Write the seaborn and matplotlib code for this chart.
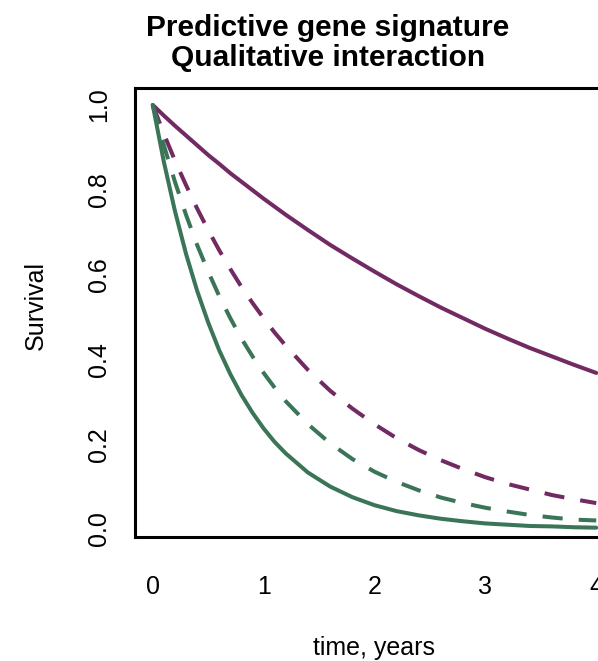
import matplotlib
matplotlib.use("Agg")
import matplotlib.pyplot as plt
import numpy as np
import pandas as pd
import seaborn as sns

# Survival curves by signature group and treatment arm
time_years = [0.0, 0.1, 0.2, 0.3, 0.4, 0.5, 0.6, 0.7, 0.8, 0.9, 1.0, 1.1, 1.2,
              1.4, 1.6, 1.8, 2.0, 2.2, 2.4, 2.6, 2.8, 3.0, 3.2, 3.4, 3.6, 3.8, 4.0]
purple_solid = [1.000, 0.975, 0.951, 0.928, 0.905, 0.882, 0.861, 0.839, 0.819, 0.799, 0.779,
                0.760, 0.741, 0.705, 0.670, 0.638, 0.607, 0.577, 0.549, 0.522, 0.497,
                0.472, 0.449, 0.427, 0.407, 0.387, 0.368]
purple_dashed = [1.000, 0.932, 0.869, 0.811, 0.756, 0.705, 0.657, 0.613, 0.571, 0.533, 0.497,
                 0.463, 0.432, 0.375, 0.326, 0.284, 0.247, 0.214, 0.186, 0.162, 0.141,
                 0.122, 0.106, 0.093, 0.080, 0.070, 0.061]
green_dashed = [1.000, 0.905, 0.819, 0.741, 0.670, 0.607, 0.549, 0.497, 0.449, 0.407, 0.368,
                0.333, 0.301, 0.247, 0.202, 0.165, 0.135, 0.111, 0.091, 0.074, 0.061,
                0.050, 0.041, 0.033, 0.027, 0.022, 0.020]
green_solid = [1.000, 0.866, 0.750, 0.649, 0.562, 0.487, 0.421, 0.365, 0.316, 0.274, 0.237,
               0.205, 0.178, 0.133, 0.100, 0.075, 0.056, 0.042, 0.032, 0.024, 0.018,
               0.013, 0.010, 0.007, 0.006, 0.004, 0.003]

x_ticks = [0, 1, 2, 3, 4]
y_ticks = [0.0, 0.2, 0.4, 0.6, 0.8, 1.0]
y_tick_labels = ["0.0", "0.2", "0.4", "0.6", "0.8", "1.0"]
title_lines = ["Predictive gene signature", "Qualitative interaction"]
x_label = "time, years"
y_label = "Survival"

PURPLE = "#722A62"
GREEN = "#3B7558"

series = {
    "purple_solid": purple_solid,
    "purple_dashed": purple_dashed,
    "green_dashed": green_dashed,
    "green_solid": green_solid,
}
df = pd.concat(
    [pd.DataFrame({"time": time_years, "survival": vals, "curve": name})
     for name, vals in series.items()],
    ignore_index=True,
)

sns.set_theme(style="white")
plt.rcParams["font.family"] = ["Liberation Sans", "DejaVu Sans"]
plt.rcParams["text.color"] = "black"
plt.rcParams["axes.labelcolor"] = "black"
plt.rcParams["xtick.color"] = "black"
plt.rcParams["ytick.color"] = "black"

W, H = 598, 661
fig = plt.figure(figsize=(W / 100, H / 100), dpi=100)
# axes box in pixels: left 135, right 614 (runs past the figure edge), top 88, bottom 537
ax = fig.add_axes([135 / W, (H - 537) / H, (614 - 135) / W, (537 - 88) / H])

palette = {"purple_solid": PURPLE, "purple_dashed": PURPLE,
           "green_dashed": GREEN, "green_solid": GREEN}
dashes = {"purple_solid": "", "purple_dashed": (5, 4),
          "green_dashed": (5, 4), "green_solid": ""}
sns.lineplot(data=df, x="time", y="survival", hue="curve", style="curve",
             palette=palette, dashes=dashes, linewidth=2.9, legend=False,
             ax=ax, hue_order=list(series), style_order=list(series))

ax.set_xlim(-0.16, 4.16)
ax.set_ylim(-0.019, 1.04)
ax.set_xticks(x_ticks)
ax.set_xticklabels([str(t) for t in x_ticks])
ax.set_yticks(y_ticks)
ax.set_yticklabels(y_tick_labels, rotation=90, va="center")
ax.set_xlabel("")
ax.set_ylabel("")

for sp in ax.spines.values():
    sp.set_visible(True)
    sp.set_color("black")
    sp.set_linewidth(2.2)

ax.tick_params(axis="both", direction="out", length=11, width=0.9,
               color="#222222", labelsize=18, labelcolor="black")
ax.tick_params(axis="x", pad=16)
ax.tick_params(axis="y", pad=6)

fig.text(328 / W, 1 - 36 / H, title_lines[0], ha="center", va="baseline",
         fontsize=21.5, fontweight="bold", color="black")
fig.text(328 / W, 1 - 66 / H, title_lines[1], ha="center", va="baseline",
         fontsize=21.5, fontweight="bold", color="black")
fig.text(374 / W, 1 - 648 / H, x_label, ha="center", va="center",
         fontsize=18, color="black")
fig.text(36 / W, 1 - 305 / H, y_label, ha="center", va="center",
         rotation=90, fontsize=18, color="black")

fig.savefig("out.png", dpi=100)
